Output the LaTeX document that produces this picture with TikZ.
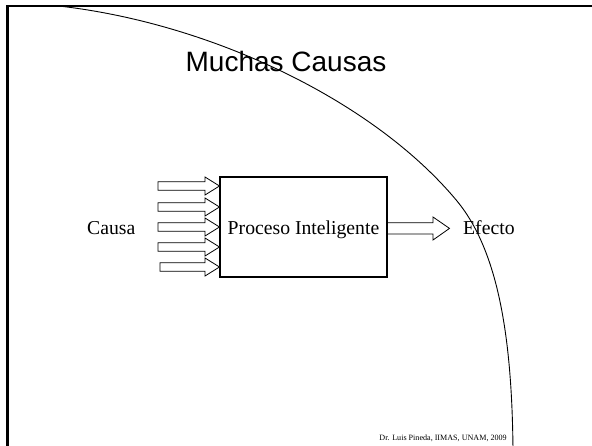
\documentclass[tikz,border=0pt]{standalone}
\usepackage{fontspec}
\setmainfont{Liberation Serif}
\newfontfamily\arialfont{Liberation Sans}
\begin{document}
\begin{tikzpicture}[x=1pt,y=-1pt,
  frameline/.style={line width=2.5pt,black},
  blockarrow/.style={draw=black,fill=white,line width=0.8pt,line join=miter},
  bodytext/.style={font=\fontsize{19.7}{23}\selectfont,inner sep=0pt},
  procbox/.style={draw=black,line width=2pt,minimum width=167pt,minimum height=100pt,inner sep=0pt}]
\useasboundingbox (0,0) rectangle (592,446);
\fill[white] (0,0) rectangle (592,446);
% arc
\begin{scope}
  \clip (8,6) rectangle (592,446);
  \draw[line width=0.9pt] (40,4) .. controls (50,5) and (55,5.5) .. (63,6.5)
     .. controls (213,24.5) and (374,101) .. (457,201)
     .. controls (499,252) and (512,340) .. (513,450);
\end{scope}
% frame
\draw[frameline] (592,6) -- (7.7,6) -- (7.7,446);
% title
\node[anchor=base,inner sep=0pt,font=\arialfont\fontsize{28}{32}\selectfont] (title) at (286,72) {Muchas Causas};
% process box
\node[procbox] (proc) at (303.5,227) {};
\node[bodytext,anchor=base] (proctext) at (303.5,235) {Proceso Inteligente};
% input arrows
\foreach \c/\t in {186/158,207/158,227/158,247/158,267/160}{
  \draw[blockarrow] (\t,{\c-4.2}) -- (205,{\c-4.2}) -- (205,{\c-9}) -- (219.5,\c) -- (205,{\c+9}) -- (205,{\c+4.2}) -- (\t,{\c+4.2}) -- cycle;
}
% output arrow
\draw[blockarrow] (388,222.7) -- (433,222.7) -- (433,217) -- (449.5,228.4) -- (433,240) -- (433,234.1) -- (388,234.1);
% labels
\node[bodytext,anchor=base west] (causa) at (87,235) {Causa};
\node[bodytext,anchor=base west] (efecto) at (463,235) {Efecto};
% footer
\node[anchor=base east,inner sep=0pt,font=\fontsize{8.1}{10}\selectfont] (footer) at (507,440) {Dr. Luis Pineda, IIMAS, UNAM, 2009};
\end{tikzpicture}
\end{document}
